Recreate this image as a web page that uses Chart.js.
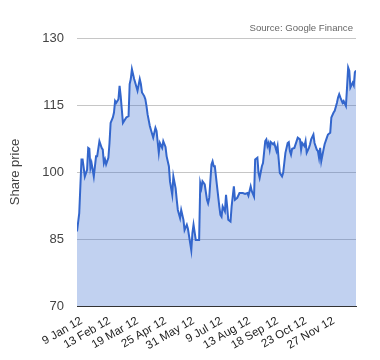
<!DOCTYPE html>
<html>
<head>
<meta charset="utf-8">
<script src="https://cdn.jsdelivr.net/npm/chart.js@4/dist/chart.umd.min.js"></script>
<style>
  html, body { margin: 0; padding: 0; background: #fff; }
  #wrap { width: 380px; height: 360px; position: relative; }
</style>
</head>
<body>
<div id="wrap"><canvas id="c" width="380" height="360"></canvas></div>
<script>
// Trading-day index (2012) and share price
const tradingDay = [0,2,4,5,7,9,10,11,12,13,14,15,17,18,20,22,23,24,25,26,28,29,30,32,33,34,35,37,38,39,40,41,43,44,46,47,48,49,51,52,54,56,57,58,60,61,62,63,65,66,68,70,71,73,74,76,77,79,80,82,83,85,86,88,89,90,92,93,95,96,98,99,102,103,104,106,109,110,111,112,114,116,117,118,120,121,122,123,125,127,128,129,130,132,133,134,135,137,138,140,141,143,145,148,150,152,153,155,156,158,159,161,162,163,165,166,168,169,170,171,172,173,175,176,178,179,180,181,183,184,186,188,189,190,191,192,194,196,197,199,200,201,203,204,205,207,208,209,211,212,214,215,216,217,218,220,221,223,224,226,227,229,230,232,233,234,235,237,238,240,241,242,243,244,246,247,248,249];
const sharePrice = [86.7,90.8,102.8,102.8,99,100.5,105.4,105.2,100.9,102,100.5,99,103.5,103.5,106.9,105.4,105,102,102.8,101.7,103.2,106.5,111,112.2,113.3,115.9,115.5,116.3,119.3,117,114,111,111.8,112.2,112.5,119.7,120.8,123,120.8,120,118.2,120.8,119.7,117.8,117,116.3,114.8,112.9,110.3,109.4,107.7,109.9,109.2,104.3,106.5,105.4,106.9,105.6,103.5,101.3,97.9,94.9,99,96.4,93.8,91.5,89.7,91.5,89.3,87,88.2,87.3,82.5,86.3,88.2,84.8,84.8,97.5,96.4,97.9,97.2,93.8,93,94.2,101.7,102.4,101.3,101.3,96.8,92.3,90.4,90,92.3,91.2,94.9,92.3,89.3,88.9,92.3,96.8,93.8,94.2,95.3,95.3,95.1,95.3,94.7,96.8,95.7,94.5,102.8,103.2,99.8,98.7,101.3,102,106.9,107.3,105.8,106.5,105,106.7,106.2,106.5,104.7,105.8,102.8,99.8,99,99.8,104.3,106.5,106.7,104.7,103.9,105.2,105.4,106.9,107.7,107.3,105,106.5,105.8,106.9,104.3,105.4,106.2,107.3,108.4,106.5,105,104.7,103.2,105.4,102.4,105,106.2,107.7,108.4,108.8,112.2,113.3,113.7,115.5,116.7,117.4,116.7,115.5,115.9,114.8,118.9,123.4,122.7,118.9,120,119.4,122.3,122.7];
const tickDays = [4,29,54,79,104,129,154,179,204,229];
const tickLabels = ['9 Jan 12','13 Feb 12','19 Mar 12','25 Apr 12','31 May 12','9 Jul 12','13 Aug 12','18 Sep 12','23 Oct 12','27 Nov 12'];
const yTicks = [70,85,100,115,130];
const sourceText = 'Source: Google Finance';
const yTitle = 'Share price';

const points = tradingDay.map((d, i) => ({ x: d, y: sharePrice[i] }));

const sourcePlugin = {
  id: 'sourceText',
  afterDraw(chart) {
    const ctx = chart.ctx;
    ctx.save();
    ctx.font = '9.6px "Liberation Sans", Arial, sans-serif';
    ctx.fillStyle = '#666';
    ctx.textAlign = 'right';
    ctx.textBaseline = 'middle';
    ctx.fillText(sourceText, chart.chartArea.right - 3, 28);
    ctx.restore();
  }
};

new Chart(document.getElementById('c'), {
  type: 'line',
  data: {
    datasets: [{
      data: points,
      borderColor: '#3366cc',
      borderWidth: 2,
      backgroundColor: 'rgba(51,102,204,0.3)',
      fill: 'start',
      pointRadius: 0,
      tension: 0
    }]
  },
  options: {
    responsive: false,
    animation: false,
    devicePixelRatio: 1,
    layout: { padding: { top: 38, right: 24, left: 0, bottom: 0 } },
    plugins: { legend: { display: false }, tooltip: { enabled: false } },
    scales: {
      x: {
        type: 'linear',
        min: 0, max: 249,
        afterBuildTicks(scale) { scale.ticks = tickDays.map(v => ({ value: v })); },
        afterFit(scale) { scale.height = 54; },
        grid: { display: false, drawTicks: false },
        border: { display: true, color: '#333', width: 1 },
        ticks: {
          autoSkip: false,
          minRotation: 30, maxRotation: 30,
          padding: 8,
          color: '#222',
          font: { family: '"Liberation Sans", Arial, sans-serif', size: 11.5 },
          callback: (v) => { const i = tickDays.indexOf(v); return i >= 0 ? tickLabels[i] : ''; }
        }
      },
      y: {
        min: 70, max: 130,
        afterBuildTicks(scale) { scale.ticks = yTicks.map(v => ({ value: v })); },
        afterFit(scale) { scale.width = 77; },
        grid: { color: '#c6c6c6', lineWidth: 1, drawTicks: false },
        border: { display: false },
        ticks: {
          padding: 13,
          color: '#444',
          font: { family: '"Liberation Sans", Arial, sans-serif', size: 13 }
        },
        title: {
          display: true,
          text: yTitle,
          color: '#444',
          padding: { top: 8, bottom: 0 },
          font: { family: '"Liberation Sans", Arial, sans-serif', size: 13 }
        }
      }
    }
  },
  plugins: [sourcePlugin]
});
</script>
</body>
</html>
